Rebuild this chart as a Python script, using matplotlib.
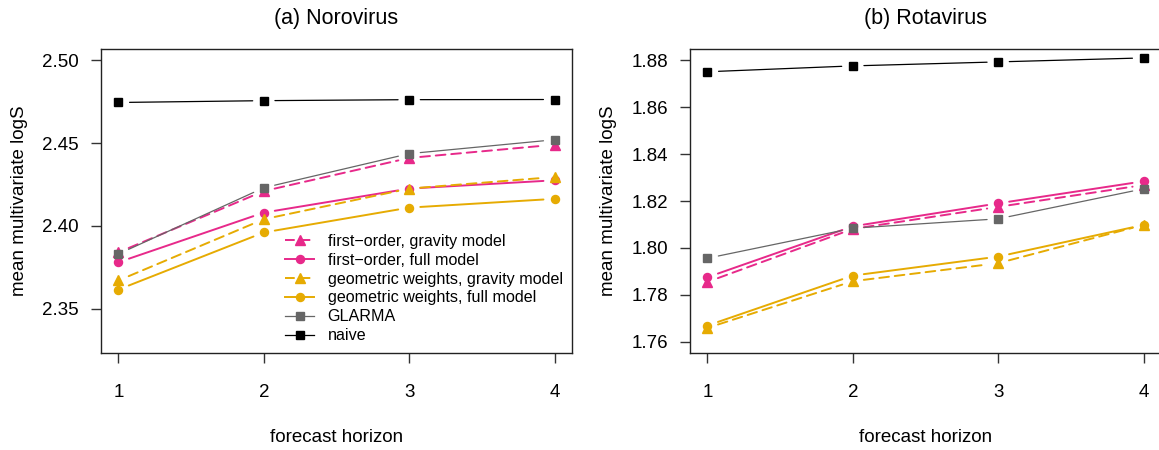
import matplotlib
matplotlib.use('Agg')
import matplotlib.pyplot as plt
from matplotlib.lines import Line2D

plt.rcParams['font.family'] = ['Liberation Sans', 'DejaVu Sans']

horizon = [1, 2, 3, 4]

# (a) Norovirus
noro_fo_grav = [2.384, 2.421, 2.441, 2.449]
noro_fo_full = [2.378, 2.408, 2.4225, 2.4275]
noro_geo_grav = [2.367, 2.404, 2.4225, 2.4295]
noro_geo_full = [2.3615, 2.396, 2.411, 2.4163]
noro_glarma = [2.383, 2.423, 2.4436, 2.452]
noro_naive = [2.4745, 2.4756, 2.4762, 2.4763]

# (b) Rotavirus
rota_fo_grav = [1.7855, 1.8081, 1.8175, 1.8268]
rota_fo_full = [1.7875, 1.8092, 1.8190, 1.8284]
rota_geo_grav = [1.7659, 1.7858, 1.7935, 1.8098]
rota_geo_full = [1.7669, 1.7882, 1.7963, 1.8098]
rota_glarma = [1.7956, 1.8084, 1.8124, 1.8252]
rota_naive = [1.8751, 1.8776, 1.8793, 1.8810]

labels = ['first\u2212order, gravity model', 'first\u2212order, full model',
          'geometric weights, gravity model', 'geometric weights, full model',
          'GLARMA', 'naive']

PINK = '#E7298A'
ORANGE = '#E6AB02'
GREY = '#666666'
# colour, linestyle, marker, markersize, linewidth
styles = [
    (PINK, (0, (5, 3)), '^', 7, 1.4),
    (PINK, '-', 'o', 5.8, 1.4),
    (ORANGE, (0, (5, 3)), '^', 7, 1.4),
    (ORANGE, '-', 'o', 5.8, 1.4),
    (GREY, '-', 's', 5.2, 0.9),
    ('black', '-', 's', 5.2, 0.9),
]


def type_b(ax, x, y, col, ls, mk, ms, lw):
    # R-style type="b": segments stop short of the points
    for i in range(len(x) - 1):
        ax.annotate('', xy=(x[i + 1], y[i + 1]), xytext=(x[i], y[i]),
                    arrowprops=dict(arrowstyle='-', color=col, lw=lw, linestyle=ls,
                                    shrinkA=8, shrinkB=8))
    ax.plot(x, y, linestyle='none', marker=mk, ms=ms, color=col, mec=col, zorder=4)


def panel(ax, series, ylim, yticks, title):
    for vals, st in zip(series, styles):
        type_b(ax, horizon, vals, *st)
    ax.set_xlim(0.88, 4.12)
    ax.set_ylim(*ylim)
    ax.set_xticks(horizon)
    ax.set_yticks(yticks)
    ax.set_yticklabels(['%.2f' % t for t in yticks])
    ax.tick_params(axis='x', length=7, width=1, pad=15, labelsize=13.5, color='#333333')
    ax.tick_params(axis='y', length=7, width=1, pad=9, labelsize=13.5, color='#333333')
    for sp in ax.spines.values():
        sp.set_linewidth(1.0)
        sp.set_color('#222222')
    ax.set_xlabel('forecast horizon', fontsize=13.5)
    ax.xaxis.set_label_coords(0.5, -0.25)
    ax.xaxis.label.set_va('top')
    ax.set_ylabel('mean multivariate logS', fontsize=13.5)
    ax.yaxis.set_label_coords(-0.155, 0.5)
    ax.set_title(title, fontsize=15.5, pad=18)


fig = plt.figure(figsize=(11.59, 4.5), dpi=100)
ax1 = fig.add_axes([101 / 1159, 97 / 450, 471 / 1159, 304 / 450])
ax2 = fig.add_axes([690 / 1159, 97 / 450, 471 / 1159, 304 / 450])

panel(ax1, [noro_fo_grav, noro_fo_full, noro_geo_grav, noro_geo_full, noro_glarma, noro_naive],
      (2.3232, 2.5068), [2.35, 2.40, 2.45, 2.50], '(a) Norovirus')
panel(ax2, [rota_fo_grav, rota_fo_full, rota_geo_grav, rota_geo_full, rota_glarma, rota_naive],
      (1.7552, 1.8848), [1.76, 1.78, 1.80, 1.82, 1.84, 1.86, 1.88], '(b) Rotavirus')

handles = [Line2D([], [], color=c, linestyle=ls, marker=mk, ms=ms, lw=lw)
           for c, ls, mk, ms, lw in styles]
ax1.legend(handles, labels, loc='upper left', bbox_to_anchor=(0.3907, 0.392),
           frameon=False, fontsize=11.6, handlelength=1.8, handletextpad=0.85,
           labelspacing=0.24, borderpad=0, borderaxespad=0, numpoints=1)

fig.savefig('out.png', dpi=100)
